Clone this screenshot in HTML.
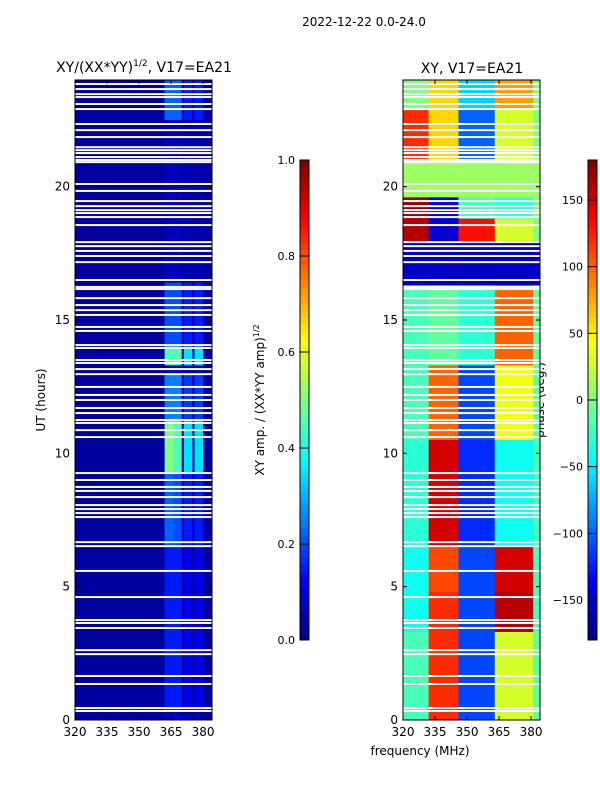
<!DOCTYPE html>
<html><head><meta charset="utf-8"><style>
html,body{margin:0;padding:0;background:#fff;width:600px;height:800px;overflow:hidden}
svg text{font-family:"DejaVu Sans","Liberation Sans",sans-serif;fill:#000}
</style></head><body>
<svg id="fig" width="600" height="800" xmlns="http://www.w3.org/2000/svg">
<text x="364" y="26" font-size="12" text-anchor="middle">2022-12-22 0.0-24.0</text>
<text x="144" y="72" font-size="14" text-anchor="middle">XY/(XX*YY)<tspan font-size="9" dy="-6">1/2</tspan><tspan dy="6">, V17=EA21</tspan></text>
<text x="472" y="73" font-size="14" text-anchor="middle">XY, V17=EA21</text>
<text transform="translate(45,400) rotate(-90)" font-size="12" text-anchor="middle">UT (hours)</text>
<text x="420" y="755" font-size="12" text-anchor="middle">frequency (MHz)</text>
<text transform="translate(264,400) rotate(-90)" font-size="12" text-anchor="middle">XY amp. / (XX*YY amp)<tspan font-size="8" dy="-5">1/2</tspan></text>
<text transform="translate(544,400) rotate(-90)" font-size="12" text-anchor="middle">phase (deg.)</text>
<g id="g"></g>
</svg>
<script>
// ---- data ----
const gapHours=[23.85,23.66,23.47,23.36,23.10,22.91,22.35,22.12,21.86,21.48,21.37,21.26,21.11,21.0,20.92,20.10,19.84,19.46,19.27,19.12,19.01,18.86,18.56,17.92,17.77,17.59,17.40,17.17,16.50,16.24,16.16,15.82,15.56,15.37,15.19,14.74,14.59,14.06,13.95,13.50,13.39,13.16,12.97,12.49,12.19,12.0,11.70,11.51,11.25,11.14,10.87,10.61,9.26,9.0,8.74,8.59,8.36,8.06,7.91,7.76,7.61,6.67,6.52,5.59,4.61,3.75,3.64,3.45,2.62,2.47,1.65,1.35,0.45,0.34];
const ampFreqEdges=[320,362,366,370,371,375,376,380,384.2];
const ampTimeEdges=[24,22.5,16.4,14.0,13.3,13.0,11.2,9.3,6.5,0.3,0];
const ampValues=[
 [0.03,0.22,0.22,0.05,0.15,0.05,0.15,0.03],
 [0.03,0.06,0.06,0.03,0.05,0.03,0.05,0.03],
 [0.03,0.2,0.2,0.05,0.15,0.05,0.15,0.03],
 [0.03,0.45,0.45,0.05,0.35,0.05,0.35,0.03],
 [0.03,0.06,0.06,0.03,0.05,0.03,0.05,0.03],
 [0.03,0.25,0.25,0.05,0.18,0.05,0.18,0.03],
 [0.03,0.5,0.45,0.05,0.35,0.05,0.35,0.03],
 [0.03,0.22,0.2,0.05,0.15,0.05,0.15,0.03],
 [0.03,0.15,0.15,0.04,0.1,0.04,0.1,0.03],
 [0.03,0.06,0.06,0.03,0.05,0.03,0.05,0.03]];
const phFreqEdges=[320,332,346,363,381,384.2];
const phTimeEdges=[24,22.9,21.0,19.6,18.8,17.9,16.3,13.3,10.5,6.5,4.8,3.3,0];
const phValues=[
 [0,60,-60,80,0],
 [120,60,-100,30,0],
 [10,10,10,10,10],
 [170,-140,-20,-30,0],
 [160,-150,130,30,0],
 [-155,-155,-155,-155,-155],
 [-20,-10,-30,100,-10],
 [-20,100,-110,40,-10],
 [-30,150,-120,-40,-20],
 [-40,110,-110,150,-20],
 [-40,120,-110,160,-20],
 [-20,120,-110,30,-10]];
const xTicks=[320,335,350,365,380];
const yTicks=[0,5,10,15,20];
const ampTicks=[0.0,0.2,0.4,0.6,0.8,1.0];
const phTicks=[-150,-100,-50,0,50,100,150];
// ---- helpers ----
const NS="http://www.w3.org/2000/svg",G=document.getElementById('g');
function jet(v){v=Math.max(0,Math.min(1,v));
 const f=t=>Math.round(255*Math.max(0,Math.min(1,1.5-Math.abs(t))));
 return `rgb(${f(4*v-3)},${f(4*v-2)},${f(4*v-1)})`;}
function el(tag,a){const e=document.createElementNS(NS,tag);for(const k in a)e.setAttribute(k,a[k]);G.appendChild(e);return e;}
const PW=137,PT=80,PB=720;
const yS=h=>PB-(h/24)*(PB-PT);
function xS(x0){return f=>x0+(f-320)*(PW/64.2);}
function panel(x0,fe,te,vals,norm,name){
 const xs=xS(x0);
 for(let i=0;i<vals.length;i++)for(let j=0;j<vals[i].length;j++){
  const r=el('rect',{x:xs(fe[j]),y:yS(te[i]),width:xs(fe[j+1])-xs(fe[j])+0.3,height:yS(te[i+1])-yS(te[i])+0.3,fill:jet(norm(vals[i][j]))});
  
  
 }
 for(const h of gapHours){const r=el('rect',{x:x0,y:yS(h)-1,width:PW,height:2,fill:'#fff'});
  
  }
 const b=el('rect',{x:x0,y:PT,width:PW,height:PB-PT,fill:'none',stroke:'#000','stroke-width':1});
 
 
 for(const t of xTicks){const X=xs(t);el('line',{x1:X,x2:X,y1:PB,y2:PB-4,stroke:'#000'});el('line',{x1:X,x2:X,y1:PT,y2:PT+4,stroke:'#000'});
  const tx=el('text',{x:X,y:PB+16,'font-size':12,'text-anchor':'middle'});tx.textContent=t;
  
  }
 for(const t of yTicks){const Y=yS(t);el('line',{x1:x0,x2:x0+4,y1:Y,y2:Y,stroke:'#000'});el('line',{x1:x0+PW,x2:x0+PW-4,y1:Y,y2:Y,stroke:'#000'});
  const tx=el('text',{x:x0-5,y:Y+4,'font-size':12,'text-anchor':'end'});tx.textContent=t;
  
  }
}
panel(75,ampFreqEdges,ampTimeEdges,ampValues,v=>v,'amp-heatmap');
panel(403,phFreqEdges,phTimeEdges,phValues,v=>(v+180)/360,'phase-heatmap');
function cbar(x,ticks,lo,hi,fmt,name){
 const CT=160,CB=640,N=64;
 for(let i=0;i<N;i++){const r=el('rect',{x:x,y:CB-(i+1)*(CB-CT)/N,width:9,height:(CB-CT)/N+0.5,fill:jet((i+0.5)/N)});
  
  }
 const b=el('rect',{x:x,y:CT,width:9,height:CB-CT,fill:'none',stroke:'#000'});
 
 
 for(const t of ticks){const Y=CB-(t-lo)/(hi-lo)*(CB-CT);el('line',{x1:x,x2:x+9,y1:Y,y2:Y,stroke:'#000'});
  const tx=el('text',{x:x-5,y:Y+4,'font-size':11,'text-anchor':'end'});tx.textContent=fmt(t);
  
  }
}
cbar(300,ampTicks,0,1,t=>t.toFixed(1),'amp-colorbar');
cbar(588,phTicks,-180,180,t=>t<0?'\u2212'+(-t):''+t,'phase-colorbar');
</script>
</body></html>
